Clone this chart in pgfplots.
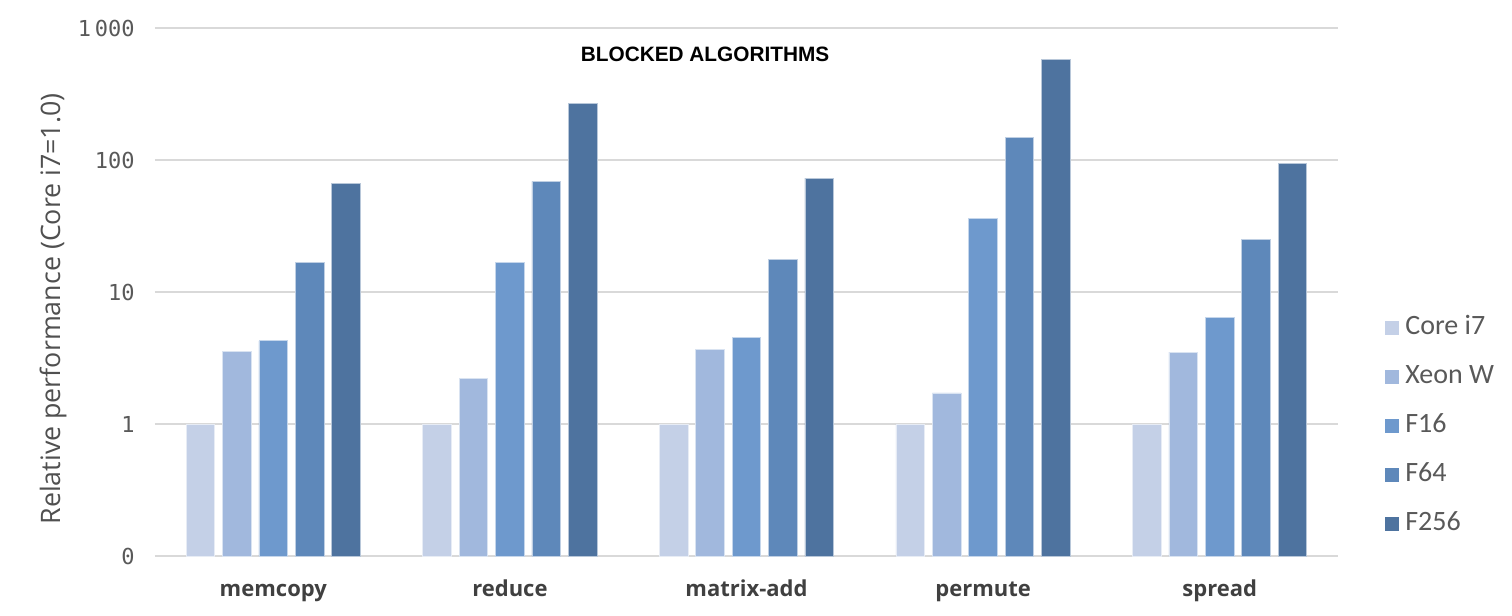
\documentclass[border=0pt]{standalone}
\usepackage{pgfplots}
\usepackage{pgfplotstable}
\pgfplotsset{compat=1.18}
\usepackage{fontspec}
\setmainfont{Open Sans}
\newfontfamily\tickfont{DejaVu Sans Mono}
\newfontfamily\legfont{Carlito}
\newfontfamily\titlefont{Liberation Sans}
\definecolor{cI}{HTML}{C4D0E7}
\definecolor{cX}{HTML}{A1B8DD}
\definecolor{cA}{HTML}{6E99CD}
\definecolor{cB}{HTML}{5E88BA}
\definecolor{cC}{HTML}{4E739F}
\definecolor{gridc}{HTML}{D9D9D9}
\definecolor{txt}{HTML}{595959}
\definecolor{xlab}{HTML}{404040}
\pgfplotstableread{
x cpu xeon f16 f64 f256
0 1 3.53 4.27 16.8 66
1 1 2.22 16.8 69 268
2 1 3.7 4.5 17.7 73
3 1 1.72 35.8 149 582
4 1 3.5 6.43 25.2 94
}\datatable
\begin{document}
\begin{tikzpicture}
\begin{axis}[
  scale only axis,
  width=591.5bp, height=264bp,
  ymode=log, ymin=0.1, ymax=1000, log origin=infty,
  xmin=-0.5, xmax=4.5, enlarge x limits=false,
  ybar, bar width=14.35bp, ybar=3.85bp,
  axis line style={draw=none},
  major tick length=0pt, minor tick length=0pt,
  tick style={draw=none},
  ytick pos=left, xtick pos=bottom,
  ymajorgrids, grid style={gridc, line width=1.2bp},
  yminorgrids=false, minor y tick num=0,
  ytick={0.1,1,10,100,1000},
  yticklabels={0,1,10,100,1\,000},
  yticklabel style={font=\tickfont\fontsize{11bp}{13bp}\selectfont, text=txt, inner sep=0pt, anchor=east, xshift=-10bp},
  xtick={0,1,2,3,4},
  xticklabels={memcopy,reduce,matrix-add,permute,spread},
  xticklabel style={font=\bfseries\fontsize{11bp}{13bp}\selectfont, text=xlab, anchor=base, yshift=-20bp},
  ylabel={Relative performance (Core i7=1.0)},
  ylabel style={font=\fontsize{13.4bp}{15bp}\selectfont, text=txt!90!black, at={(axis description cs:-0.0862,0.468)}, anchor=center},
  clip=false,
  legend cell align=left,
  legend image code/.code={\fill[#1,draw=none] (0bp,-3.5bp) rectangle (7bp,3.5bp);},
  legend style={draw=none, fill=none, inner sep=0pt, at={(rel axis cs:1.0397,0.247)}, anchor=west,
    font=\legfont\fontsize{14bp}{16bp}\selectfont, text=txt,
    nodes={inner sep=0pt, text height=9.5bp, text depth=3bp},
    row sep=12bp,
    /tikz/every odd column/.append style={column sep=3bp}},
]
\addplot[fill=cI, draw=white!60!cI, line width=0.4bp] table[x=x,y=cpu] \datatable;
\addplot[fill=cX, draw=white!60!cX, line width=0.4bp] table[x=x,y=xeon] \datatable;
\addplot[fill=cA, draw=white!60!cA, line width=0.4bp] table[x=x,y=f16] \datatable;
\addplot[fill=cB, draw=white!60!cB, line width=0.4bp] table[x=x,y=f64] \datatable;
\addplot[fill=cC, draw=white!60!cC, line width=0.4bp] table[x=x,y=f256] \datatable;
\legend{Core i7,Xeon W,F16,F64,F256}
\node[font=\titlefont\bfseries\fontsize{10.4bp}{12bp}\selectfont, text=black] at (rel axis cs:0.465,0.950) {BLOCKED ALGORITHMS};
\end{axis}
\pgfresetboundingbox
\path[use as bounding box] (-77.5bp,-30bp) rectangle (678.5bp,278bp);
\end{tikzpicture}
\end{document}
